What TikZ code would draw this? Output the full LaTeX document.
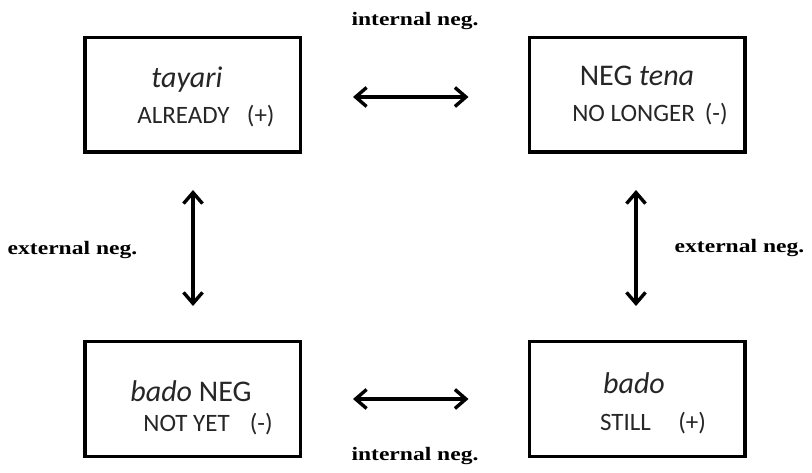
\documentclass[tikz,border=0pt]{standalone}
\usepackage{fontspec}
\setmainfont{Carlito}
\newfontfamily\labfont{Liberation Serif}[FakeStretch=1.24]
\usetikzlibrary{arrows.meta}
\definecolor{boxtext}{HTML}{262626}
\tikzset{
  box/.style={draw=black, line width=3.5pt, minimum width=215.5pt, minimum height=114.5pt, inner sep=0pt},
  txtA/.style={anchor=base, inner sep=0pt, text=boxtext, font=\fontsize{30}{32}\selectfont},
  txtB/.style={anchor=base, inner sep=0pt, text=boxtext, font=\fontsize{25}{27}\selectfont},
  lab/.style={anchor=base, inner sep=0pt, text=black, font=\labfont\bfseries\fontsize{19}{21}\selectfont},
  dbl/.style={line width=3.4pt, {Straight Barb[length=11pt,width=19pt]}-{Straight Barb[length=11pt,width=19pt]}}
}
\begin{document}
\begin{tikzpicture}[x=1pt,y=-1pt]
\useasboundingbox[fill=white] (0,0) rectangle (812,473);
% boxes
\node[box] (tl) at (192.5,95) {};
\node[box] (tr) at (637,95) {};
\node[box] (bl) at (192.5,399) {};
\node[box] (br) at (637,399) {};
% box texts
\node[txtA] (tl1) at (187,88) {\itshape tayari};
\node[txtB] (tl2) at (206,124) {ALREADY\hspace{0.7em}(+)};
\node[txtA] (tr1) at (637,86) {NEG \itshape tena};
\node[txtB] (tr2) at (650,122) {NO LONGER\hspace{0.4em}(-)};
\node[txtA] (bl1) at (191,401) {\itshape bado\upshape\ NEG};
\node[txtB] (bl2) at (208,431) {NOT YET\hspace{0.8em}(-)};
\node[txtA] (br1) at (634,393) {\itshape bado};
\node[txtB] (br2) at (653,430) {STILL\hspace{1.1em}(+)};
% labels
\node[lab] (intT) at (415,26) {internal neg.};
\node[lab] (intB) at (415,460) {internal neg.};
\node[lab] (extL) at (72.5,255) {external neg.};
\node[lab] (extR) at (739.5,253) {external neg.};
% arrows
\draw[dbl, shorten <=51pt, shorten >=59pt] (tl.east |- 0,97) -- (tr.west |- 0,97);
\draw[dbl, shorten <=51pt, shorten >=59pt] (bl.east |- 0,399) -- (br.west |- 0,399);
\draw[dbl, shorten <=36pt, shorten >=34pt] (tl.south -| 193,0) -- (bl.north -| 193,0);
\draw[dbl, shorten <=36pt, shorten >=34pt] (tr.south -| 636,0) -- (br.north -| 636,0);
\end{tikzpicture}
\end{document}
